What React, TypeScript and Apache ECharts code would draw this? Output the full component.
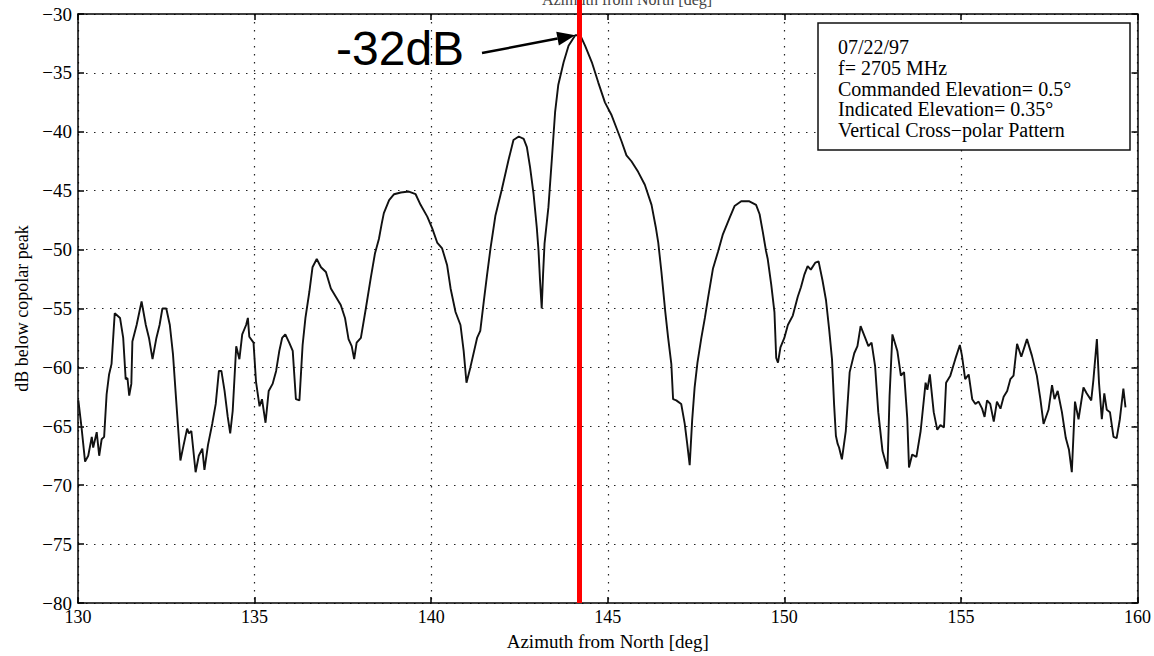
import React, { useEffect, useRef } from "react";
import * as echarts from "echarts";

// Azimuth [deg] and level [dB below copolar peak]
const AZIMUTH = [
  130.01, 130.1, 130.2, 130.29, 130.39, 130.43, 130.53, 130.6, 130.67, 130.74,
  130.81, 130.88, 130.95, 131.04, 131.19, 131.28, 131.35, 131.4, 131.45, 131.51,
  131.54, 131.66, 131.8, 131.92, 132.01, 132.11, 132.22, 132.31, 132.39, 132.5,
  132.6, 132.69, 132.78, 132.9, 132.99, 133.09, 133.14, 133.21, 133.33, 133.42,
  133.52, 133.58, 133.68, 133.8, 133.9, 133.99, 134.06, 134.15, 134.24, 134.31,
  134.38, 134.48, 134.57, 134.65, 134.76, 134.81, 134.85, 134.97, 135.04, 135.14,
  135.21, 135.31, 135.4, 135.51, 135.61, 135.7, 135.78, 135.87, 135.98, 136.08,
  136.17, 136.27, 136.36, 136.44, 136.55, 136.64, 136.76, 136.88, 137.02, 137.16,
  137.3, 137.44, 137.56, 137.66, 137.75, 137.82, 137.89, 138.01, 138.15, 138.29,
  138.41, 138.52, 138.6, 138.66, 138.81, 138.95, 139.14, 139.37, 139.56, 139.7,
  139.89, 140.03, 140.17, 140.31, 140.45, 140.55, 140.69, 140.83, 140.92, 141.0,
  141.11, 141.3, 141.39, 141.49, 141.58, 141.68, 141.82, 142.0, 142.19, 142.33,
  142.48, 142.62, 142.71, 142.8, 142.9, 142.99, 143.04, 143.08, 143.13, 143.17,
  143.21, 143.32, 143.42, 143.51, 143.6, 143.75, 143.89, 144.08, 144.22, 144.36,
  144.55, 144.73, 144.92, 145.11, 145.25, 145.39, 145.53, 145.67, 145.86, 146.05,
  146.24, 146.36, 146.43, 146.52, 146.63, 146.71, 146.8, 146.85, 146.94, 147.08,
  147.18, 147.25, 147.32, 147.39, 147.46, 147.54, 147.65, 147.75, 147.84, 147.98,
  148.12, 148.26, 148.45, 148.59, 148.78, 149.01, 149.2, 149.3, 149.39, 149.48,
  149.53, 149.63, 149.72, 149.77, 149.82, 149.89, 150.0, 150.1, 150.24, 150.38,
  150.47, 150.57, 150.66, 150.75, 150.88, 150.97, 151.08, 151.18, 151.27, 151.35,
  151.41, 151.46, 151.51, 151.55, 151.63, 151.74, 151.85, 151.98, 152.07, 152.16,
  152.29, 152.38, 152.47, 152.57, 152.66, 152.78, 152.92, 152.98, 153.06, 153.2,
  153.3, 153.39, 153.48, 153.53, 153.62, 153.74, 153.86, 154.0, 154.05, 154.12,
  154.23, 154.33, 154.42, 154.52, 154.58, 154.7, 154.84, 154.97, 155.03, 155.12,
  155.22, 155.32, 155.41, 155.5, 155.6, 155.67, 155.74, 155.83, 155.93, 156.02,
  156.12, 156.21, 156.31, 156.4, 156.49, 156.59, 156.71, 156.87, 157.01, 157.15,
  157.25, 157.34, 157.48, 157.58, 157.65, 157.74, 157.86, 157.97, 158.06, 158.14,
  158.23, 158.33, 158.47, 158.56, 158.69, 158.75, 158.85, 158.91, 158.99, 159.06,
  159.13, 159.22, 159.32, 159.41, 159.5, 159.6, 159.66,
];

const LEVEL_DB = [
  -62.8, -65.1, -68.0, -67.5, -65.9, -66.8, -65.5, -67.5, -66.1, -65.9,
  -62.3, -60.6, -59.7, -55.4, -55.8, -57.5, -61.0, -60.9, -62.4, -61.4,
  -57.8, -56.4, -54.4, -56.4, -57.5, -59.3, -57.5, -56.4, -55.0, -55.0,
  -56.4, -58.9, -62.8, -67.9, -66.6, -65.2, -65.6, -65.4, -68.9, -67.5,
  -66.9, -68.7, -66.6, -64.8, -63.1, -60.3, -60.3, -62.0, -64.2, -65.6,
  -63.7, -58.2, -59.3, -57.2, -56.4, -55.8, -57.4, -57.9, -61.2, -63.3,
  -62.7, -64.7, -62.0, -61.4, -60.3, -58.6, -57.5, -57.2, -57.9, -58.6,
  -62.7, -62.8, -58.1, -55.8, -53.6, -51.5, -50.8, -51.5, -51.9, -53.3,
  -54.0, -54.7, -55.8, -57.6, -58.2, -59.3, -57.9, -57.5, -55.0, -52.4,
  -50.3, -49.1, -47.8, -46.9, -45.8, -45.3, -45.15, -45.07, -45.3, -46.2,
  -47.2, -48.2, -49.4, -49.9, -51.3, -53.3, -55.3, -56.4, -58.6, -61.3,
  -60.0, -57.5, -56.9, -54.4, -52.2, -49.9, -47.1, -44.9, -42.4, -40.7,
  -40.4, -40.6, -41.3, -43.0, -45.3, -48.1, -50.1, -52.5, -55.0, -52.0,
  -49.5, -46.4, -42.2, -38.3, -36.0, -34.1, -32.7, -31.8, -31.8, -32.7,
  -34.1, -35.8, -37.5, -38.6, -39.7, -40.8, -42.0, -42.5, -43.4, -44.5,
  -46.2, -48.1, -49.4, -51.9, -55.3, -57.5, -59.7, -62.7, -62.8, -63.1,
  -64.8, -66.5, -68.3, -64.5, -61.7, -59.6, -57.5, -55.8, -54.1, -51.6,
  -50.2, -48.7, -47.3, -46.3, -45.9, -45.9, -46.2, -47.0, -48.5, -50.1,
  -50.8, -53.0, -55.3, -59.2, -59.6, -58.3, -57.5, -56.4, -55.6, -54.0,
  -53.2, -52.1, -51.4, -51.7, -51.1, -51.0, -52.6, -54.3, -56.8, -59.3,
  -63.2, -65.8, -66.5, -66.8, -67.8, -65.4, -60.4, -58.8, -58.2, -56.5,
  -57.5, -58.2, -57.9, -59.9, -63.8, -67.1, -68.6, -62.4, -57.2, -58.6,
  -60.7, -60.4, -64.3, -68.5, -67.4, -67.6, -65.4, -61.3, -61.9, -60.6,
  -63.8, -65.3, -64.9, -65.1, -61.3, -60.7, -59.3, -58.1, -59.0, -61.0,
  -60.6, -62.7, -63.1, -62.9, -63.5, -64.2, -62.8, -63.1, -64.6, -62.9,
  -63.5, -62.5, -62.0, -61.0, -60.7, -58.0, -59.1, -57.6, -59.0, -60.7,
  -62.7, -64.8, -63.6, -61.5, -62.7, -62.0, -63.8, -66.0, -67.0, -68.9,
  -62.9, -64.4, -61.7, -62.2, -62.8, -61.1, -57.6, -61.3, -64.4, -62.2,
  -63.6, -63.8, -65.9, -66.0, -64.4, -61.8, -63.4,
];

const X_MIN = 130;
const X_MAX = 160;
const X_STEP = 5;
const Y_MIN = -80;
const Y_MAX = -30;
const Y_STEP = 5;

const MARKER_AZIMUTH = 144.2;
const PEAK_POINT = [144.08, -31.8];
const PEAK_LABEL = "-32dB";
const X_TITLE = "Azimuth from North [deg]";
const Y_TITLE = "dB below copolar peak";
const INFO_LINES = [
  "07/22/97",
  "f= 2705 MHz",
  "Commanded Elevation= 0.5\u00b0",
  "Indicated Elevation= 0.35\u00b0",
  "Vertical Cross\u2212polar Pattern",
];

const SERIF = "'Liberation Serif', 'Times New Roman', serif";
const SANS = "'Liberation Sans', Arial, sans-serif";

export default function App() {
  const ref = useRef<HTMLDivElement>(null);

  useEffect(() => {
    if (!ref.current) return;
    const chart = echarts.init(ref.current, undefined, { renderer: "svg" });
    const data = AZIMUTH.map((a, i) => [a, LEVEL_DB[i]]);
    const fmt = (v: number) => (v < 0 ? "\u2212" + Math.abs(v) : String(v));

    const splitStyle = { show: true, lineStyle: { color: "#222", type: [1.5, 6.5], width: 1.2 } };
    const axisLine = { show: true, onZero: false, lineStyle: { color: "#000", width: 1.5 } };
    const tick = { show: true, inside: true, length: 6, lineStyle: { color: "#000", width: 1.5 } };

    chart.setOption({
      animation: false,
      backgroundColor: "#fff",
      grid: { left: 78, right: 13, top: 14, bottom: 48, show: false },
      xAxis: [
        {
          type: "value", min: X_MIN, max: X_MAX, interval: X_STEP, position: "bottom",
          axisLine, axisTick: tick, splitLine: splitStyle,
          axisLabel: { color: "#000", fontFamily: SERIF, fontSize: 18, margin: 5 },
          name: X_TITLE, nameLocation: "middle", nameGap: 29,
          nameTextStyle: { color: "#000", fontFamily: SERIF, fontSize: 19 },
        },
        {
          type: "value", min: X_MIN, max: X_MAX, interval: X_STEP, position: "top",
          axisLine, axisTick: tick, splitLine: { show: false }, axisLabel: { show: false },
        },
      ],
      yAxis: [
        {
          type: "value", min: Y_MIN, max: Y_MAX, interval: Y_STEP, position: "left",
          axisLine, axisTick: tick, splitLine: splitStyle,
          axisLabel: { color: "#000", fontFamily: SERIF, fontSize: 19, margin: 6, formatter: fmt },
          name: Y_TITLE, nameLocation: "middle", nameGap: 34, nameRotate: 90,
          nameTextStyle: { color: "#000", fontFamily: SERIF, fontSize: 18 },
        },
        {
          type: "value", min: Y_MIN, max: Y_MAX, interval: Y_STEP, position: "right",
          axisLine, axisTick: tick, splitLine: { show: false }, axisLabel: { show: false },
        },
      ],
      series: [
        {
          type: "line",
          data,
          xAxisIndex: 0,
          yAxisIndex: 0,
          showSymbol: false,
          symbol: "none",
          lineStyle: { color: "#111", width: 1.9 },
          z: 3,
        },
      ],
    });

    const [mx, bottomY] = chart.convertToPixel({ gridIndex: 0 }, [MARKER_AZIMUTH, Y_MIN]) as number[];
    const [tipX, tipY] = chart.convertToPixel({ gridIndex: 0 }, PEAK_POINT) as number[];
    const tailX = 482;
    const tailY = 53;
    const dx = tipX - tailX;
    const dy = tipY - tailY;
    const len = Math.hypot(dx, dy);
    const ux = dx / len;
    const uy = dy / len;
    const headLen = 18;
    const headHalf = 7;
    const bx = tipX - ux * headLen;
    const by = tipY - uy * headLen;

    const boxX = 818;
    const boxY = 23;
    const boxW = 312;
    const boxH = 127;

    chart.setOption({
      graphic: [
        {
          type: "text",
          style: { text: X_TITLE, x: 627, y: -1, fill: "#444", font: `16px ${SERIF}`, align: "center", verticalAlign: "middle" },
          z: 1,
        },
        {
          type: "rect", shape: { x: boxX, y: boxY, width: boxW, height: boxH },
          style: { fill: "#fff", stroke: "#111", lineWidth: 1.5 }, z: 20,
        },
        ...INFO_LINES.map((t, i) => ({
          type: "text",
          style: { text: t, x: boxX + 20, y: boxY + 24 + i * 20.8, fill: "#000", font: `20px ${SERIF}`, verticalAlign: "middle" },
          z: 21,
        })),
        {
          type: "line", shape: { x1: mx, y1: 0, x2: mx, y2: bottomY },
          style: { stroke: "#ff0000", lineWidth: 5 }, z: 30,
        },
        {
          type: "line", shape: { x1: tailX, y1: tailY, x2: bx, y2: by },
          style: { stroke: "#000", lineWidth: 2.5 }, z: 31,
        },
        {
          type: "polygon",
          shape: {
            points: [
              [tipX, tipY],
              [bx - uy * headHalf, by + ux * headHalf],
              [bx + uy * headHalf, by - ux * headHalf],
            ],
          },
          style: { fill: "#000" }, z: 31,
        },
        {
          type: "text",
          style: { text: PEAK_LABEL, x: 336, y: 48, fill: "#000", font: `48px ${SANS}`, verticalAlign: "middle" },
          z: 31,
        },
      ],
    });

    return () => chart.dispose();
  }, []);

  return (
    <div
      ref={ref}
      style={{ position: "absolute", left: 0, top: 0, width: 1154, height: 656 }}
    />
  );
}
